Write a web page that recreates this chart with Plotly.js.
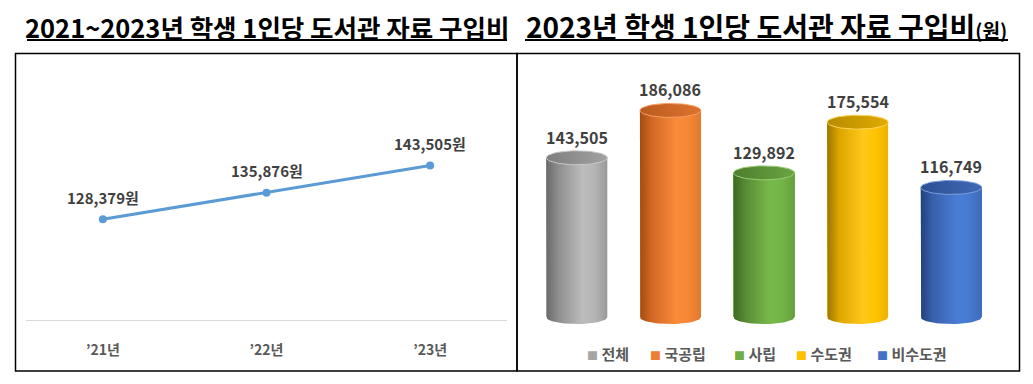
<!DOCTYPE html>
<html>
<head>
<meta charset="utf-8">
<script src="https://cdn.plot.ly/plotly-3.0.1.min.js"></script>
<style>html,body{margin:0;padding:0;background:#fff;}#chart{width:1033px;height:384px;}</style>
</head>
<body>
<div id="chart"></div>
<script>
// ---- data ----
const years = ['’21년', '’22년', '’23년'];
const purchase = [128379, 135876, 143505];
const groups = ['전체', '국공립', '사립', '수도권', '비수도권'];
const groupValues = [143505, 186086, 129892, 175554, 116749];

// ---- styles ----
const W = 1033, H = 384;
const FONT = '"Noto Sans CJK KR", "Noto Sans", sans-serif';
const px = x => x / W;
const py = y => 1 - y / H;
const baseColors = ['#A5A5A5', '#ED7D31', '#70AD47', '#FFC000', '#4472C4'];
const bodyScales = [
  [[0,'#6A6A6A'],[0.2,'#8E8E8E'],[0.6,'#BDBDBD'],[0.8,'#B4B4B4'],[1,'#999999']],
  [[0,'#A44C12'],[0.2,'#D26824'],[0.6,'#FA8B3A'],[0.8,'#F58634'],[1,'#E07A2E']],
  [[0,'#3D6921'],[0.2,'#588C35'],[0.6,'#78BA4B'],[0.8,'#73B447'],[1,'#659F3E']],
  [[0,'#9C7500'],[0.2,'#DDA600'],[0.6,'#FFC81A'],[0.8,'#FFC300'],[1,'#EBB200']],
  [[0,'#23417A'],[0.2,'#3860AB'],[0.6,'#4A7DD6'],[0.8,'#4679D0'],[1,'#3E6BBD']]
];
const capScales = [
  [[0,'#7E7E7E'],[1,'#A2A2A2']],
  [[0,'#B95A1C'],[1,'#DE7330']],
  [[0,'#4E7E2E'],[1,'#6AA443']],
  [[0,'#B88C00'],[1,'#E0AA00']],
  [[0,'#2D5092'],[1,'#4068B4']]
];
const rimColors = ['#C8C8C8', '#F6A066', '#98CC74', '#FFD55A', '#7A9EE0'];
const legendX = [585, 648, 732, 794, 875];

const yRange2 = [-8000, 200000];
const plotTop2 = 95, plotBot2 = 326;
const unitsPerPx = (yRange2[1] - yRange2[0]) / (plotBot2 - plotTop2);
const halfW = 0.326;
const ellH = 7 * unitsPerPx;
const N = 32;

const fmt = v => v.toLocaleString('en-US');

const traces = [];

// bars (base layer)
groups.forEach((g, i) => {
  traces.push({
    type: 'bar', x: [i], y: [groupValues[i]], width: halfW * 2,
    marker: {color: baseColors[i]}, xaxis: 'x2', yaxis: 'y2',
    showlegend: false, hoverinfo: 'skip', name: g
  });
});

// cylinder bodies and caps
groups.forEach((g, i) => {
  const v = groupValues[i];
  const bx = [i - halfW, i - halfW];
  const by = [v, 0];
  for (let k = 0; k <= N; k++) {
    const t = Math.PI * k / N;
    bx.push(i - halfW * Math.cos(t));
    by.push(-ellH * Math.sin(t));
  }
  bx.push(i + halfW, i - halfW);
  by.push(v, v);
  traces.push({
    type: 'scatter', mode: 'lines', x: bx, y: by, fill: 'toself',
    fillgradient: {type: 'horizontal', start: i - halfW, stop: i + halfW, colorscale: bodyScales[i]},
    line: {width: 0, color: baseColors[i]}, xaxis: 'x2', yaxis: 'y2',
    showlegend: false, hoverinfo: 'skip'
  });
  const cx = [], cy = [];
  for (let k = 0; k <= 2 * N; k++) {
    const t = Math.PI * k / N;
    cx.push(i + halfW * Math.cos(t));
    cy.push(v + ellH * Math.sin(t));
  }
  traces.push({
    type: 'scatter', mode: 'lines', x: cx, y: cy, fill: 'toself',
    fillgradient: {type: 'horizontal', start: i - halfW, stop: i + halfW, colorscale: capScales[i]},
    line: {width: 1, color: rimColors[i]}, xaxis: 'x2', yaxis: 'y2',
    showlegend: false, hoverinfo: 'skip'
  });
});

// line chart
traces.push({
  type: 'scatter', mode: 'lines+markers', x: years, y: purchase,
  line: {color: '#5B9BD5', width: 3}, marker: {color: '#5B9BD5', size: 8},
  xaxis: 'x', yaxis: 'y', showlegend: false, hoverinfo: 'x+y'
});

const annotations = [];
purchase.forEach((v, i) => {
  annotations.push({
    x: years[i], y: v, xref: 'x', yref: 'y', showarrow: false, yshift: 22,
    text: fmt(v) + '원', font: {family: FONT, size: 15, color: '#404040', weight: 'bold'}
  });
});
groupValues.forEach((v, i) => {
  annotations.push({
    x: i, y: v, xref: 'x2', yref: 'y2', showarrow: false, yshift: 21,
    text: fmt(v), font: {family: FONT, size: 16, color: '#404040', weight: 'bold'}
  });
});
groups.forEach((g, i) => {
  annotations.push({
    x: px(legendX[i]), y: py(353), xref: 'paper', yref: 'paper', xanchor: 'left', yanchor: 'middle',
    showarrow: false,
    text: '<span style="color:' + baseColors[i] + ';font-size:11px">■</span> ' + g,
    font: {family: FONT, size: 15, color: '#595959', weight: 'bold'}
  });
});
// titles
annotations.push({
  x: px(267), y: py(26), xref: 'paper', yref: 'paper', showarrow: false, xanchor: 'center', yanchor: 'middle',
  text: '2021~2023년 학생 1인당 도서관 자료 구입비',
  font: {family: FONT, size: 25.5, color: '#000', weight: 'bold'}
});
annotations.push({
  x: px(766), y: py(26), xref: 'paper', yref: 'paper', showarrow: false, xanchor: 'center', yanchor: 'middle',
  text: '2023년 학생 1인당 도서관 자료 구입비<span style="font-size:19px">(원)</span>',
  font: {family: FONT, size: 28, color: '#000', weight: 'bold'}
});

const shapes = [
  {type: 'line', xref: 'paper', yref: 'paper', x0: px(27), x1: px(507), y0: py(40), y1: py(40), line: {color: '#000', width: 2}},
  {type: 'line', xref: 'paper', yref: 'paper', x0: px(525), x1: px(1008), y0: py(40), y1: py(40), line: {color: '#000', width: 2}},
  {type: 'rect', xref: 'paper', yref: 'paper', x0: px(15.5), x1: px(517), y0: py(53.5), y1: py(371), line: {color: '#000', width: 1.5}},
  {type: 'rect', xref: 'paper', yref: 'paper', x0: px(517), x1: px(1019.5), y0: py(53.5), y1: py(371), line: {color: '#000', width: 1.5}}
];

const layout = {
  width: W, height: H,
  margin: {l: 0, r: 0, t: 0, b: 0, pad: 0},
  paper_bgcolor: '#fff', plot_bgcolor: 'rgba(0,0,0,0)',
  showlegend: false,
  bargap: 0,
  xaxis: {
    domain: [px(26), px(507)], range: [-0.47, 2.47], type: 'category',
    showgrid: false, zeroline: false, showline: true, linecolor: '#D9D9D9', linewidth: 1,
    ticks: '', ticklabelstandoff: 17,
    tickfont: {family: FONT, size: 14, color: '#595959', weight: 'bold'}, fixedrange: true
  },
  yaxis: {
    domain: [py(320), py(107)], range: [100000, 160000], visible: false, fixedrange: true
  },
  xaxis2: {
    domain: [px(530), px(998)], range: [-0.5, 4.5], anchor: 'y2', visible: false, fixedrange: true
  },
  yaxis2: {
    domain: [py(plotBot2), py(plotTop2)], range: yRange2, anchor: 'x2', visible: false, fixedrange: true
  },
  annotations: annotations,
  shapes: shapes,
  font: {family: FONT}
};

Plotly.newPlot('chart', traces, layout, {displayModeBar: false, staticPlot: true});
</script>
</body>
</html>
